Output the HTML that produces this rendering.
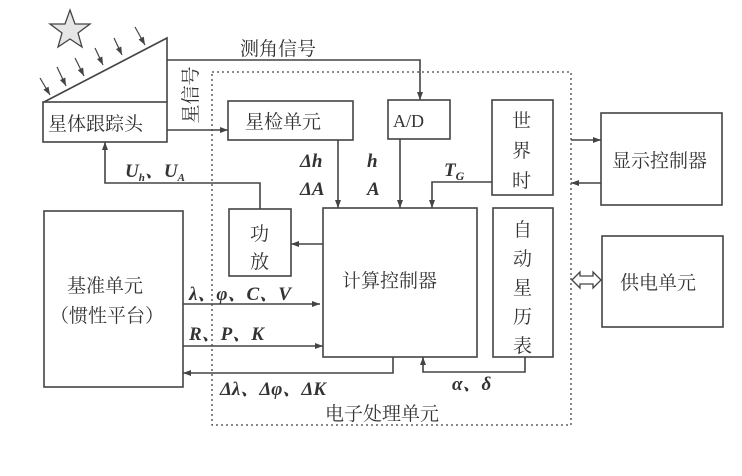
<!DOCTYPE html>
<html><head><meta charset="utf-8"><style>
html,body{margin:0;padding:0;background:#fff;}
svg{display:block;}
text{font-family:"Liberation Serif","Noto Serif CJK SC",serif;fill:#333;}
.cn{font-family:"Liberation Serif","Noto Serif CJK SC",serif;font-size:19px;}
.it{font-style:italic;font-size:19px;font-weight:bold;}
</style></head><body>
<svg width="742" height="476" viewBox="0 0 742 476" xmlns="http://www.w3.org/2000/svg">
<defs>
<marker id="a" markerWidth="8" markerHeight="6" refX="8" refY="3" orient="auto" markerUnits="userSpaceOnUse">
<path d="M0,0 L8,3 L0,6 Z" fill="#444"/></marker>
</defs>
<g stroke="#444" stroke-width="1.6" fill="none">
<!-- star -->
<polygon points="70,10 75,24 90,24 78,33 82,47 70,39 58,47 62,33 50,24 65,24" fill="#e6e6e6" stroke-width="1.3"/>
<!-- triangle -->
<path d="M44,102 L167,38 L167,102"/>
<!-- small arrows -->
<g marker-end="url(#a)" stroke-width="1.2">
<line x1="40" y1="78" x2="50" y2="95"/>
<line x1="57" y1="67" x2="66" y2="86"/>
<line x1="75" y1="58" x2="84" y2="76"/>
<line x1="95" y1="48" x2="103" y2="65"/>
<line x1="114" y1="38" x2="122" y2="55"/>
<line x1="135" y1="27" x2="145" y2="45"/>
</g>
<rect x="43" y="102" width="124" height="40"/>
<rect x="228" y="101" width="125" height="39"/>
<rect x="388" y="100" width="62" height="39"/>
<rect x="492" y="100" width="61" height="95"/>
<rect x="601" y="113" width="121" height="92"/>
<rect x="602" y="236" width="121" height="91"/>
<rect x="323" y="208" width="154" height="149"/>
<rect x="493" y="208" width="60" height="149"/>
<rect x="229" y="209" width="62" height="67"/>
<rect x="44" y="211" width="139" height="176"/>
<rect x="212" y="72" width="359" height="353" stroke-dasharray="2,3" stroke-width="1.3"/>
<!-- connectors -->
<path d="M167,60 L420,60 L420,100" marker-end="url(#a)"/>
<path d="M167,130 L228,130" marker-end="url(#a)"/>
<path d="M338,140 L338,208" marker-end="url(#a)"/>
<path d="M400,139 L400,208" marker-end="url(#a)"/>
<path d="M492,182 L432,182 L432,208" marker-end="url(#a)"/>
<path d="M571,140 L601,140" marker-end="url(#a)"/>
<path d="M601,183 L571,183" marker-end="url(#a)"/>
<path d="M323,244 L291,244" marker-end="url(#a)"/>
<path d="M260,209 L260,183 L105,183 L105,142" marker-end="url(#a)"/>
<path d="M183,304 L320,304" marker-end="url(#a)"/>
<path d="M183,346 L323,346" marker-end="url(#a)"/>
<path d="M393,357 L393,373 L183,373" marker-end="url(#a)"/>
<path d="M525,357 L525,372 L423,372 L423,357" marker-end="url(#a)"/>
<!-- double arrow -->
<path d="M572,280 L580,272 L580,276 L593,276 L593,272 L601,280 L593,288 L593,284 L580,284 L580,288 Z" stroke-width="1.3"/>
</g>
<text class="cn" x="240" y="55">测角信号</text>
<text class="cn" transform="translate(197,95) rotate(-90)" text-anchor="middle">星信号</text>
<text class="cn" x="48" y="130">星体跟踪头</text>
<text class="cn" x="245" y="128">星检单元</text>
<text x="393" y="127" font-size="18" font-family="Liberation Serif,serif">A/D</text>
<text class="cn" x="512" y="127">世</text>
<text class="cn" x="512" y="157">界</text>
<text class="cn" x="512" y="187">时</text>
<text class="cn" x="612" y="167">显示控制器</text>
<text class="cn" x="620" y="289">供电单元</text>
<text class="cn" x="342" y="287">计算控制器</text>
<text class="cn" x="513" y="236">自</text>
<text class="cn" x="513" y="265">动</text>
<text class="cn" x="513" y="294">星</text>
<text class="cn" x="513" y="323">历</text>
<text class="cn" x="513" y="352">表</text>
<text class="cn" x="250" y="240">功</text>
<text class="cn" x="250" y="268">放</text>
<text class="cn" x="67" y="292">基准单元</text>
<text class="cn" x="50" y="322">（惯性平台）</text>
<text class="cn" x="325" y="420">电子处理单元</text>
<text class="it" x="300" y="167">Δh</text>
<text class="it" x="300" y="195">ΔA</text>
<text class="it" x="367" y="167">h</text>
<text class="it" x="367" y="195">A</text>
<text class="it" x="444" y="176">T<tspan font-size="12" dy="4">G</tspan></text>
<text class="it" x="125" y="177">U<tspan font-size="11" dy="4">h</tspan><tspan dy="-4">、U</tspan><tspan font-size="11" dy="4">A</tspan></text>
<text class="it" x="189" y="300">λ、φ、C、V</text>
<text class="it" x="189" y="340">R、P、K</text>
<text class="it" x="220" y="395">Δλ、Δφ、ΔK</text>
<text class="it" x="452" y="390">α、δ</text>
</svg>
</body></html>
